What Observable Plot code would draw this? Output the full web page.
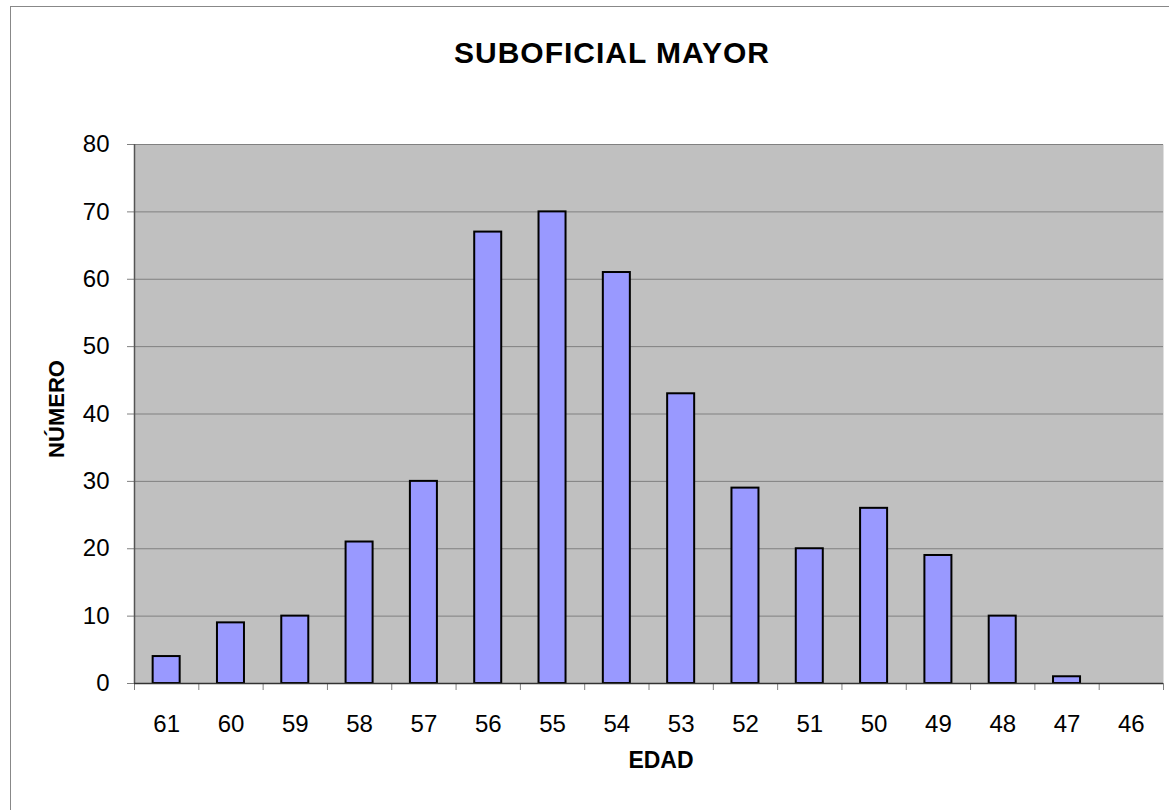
<!DOCTYPE html>
<html>
<head>
<meta charset="utf-8">
<script src="https://cdn.jsdelivr.net/npm/d3@7"></script>
<script src="https://cdn.jsdelivr.net/npm/@observablehq/plot@0.6"></script>
<style>
  body { margin: 0; background: #fff; font-family: Arial, "Liberation Sans", sans-serif; }
  #wrap { position: relative; width: 1169px; height: 810px; overflow: hidden; }
  #border { position: absolute; left: 10px; top: 6px; width: 1180px; height: 820px; border: 1px solid #888; box-sizing: border-box; }
  #title { position: absolute; left: 312px; width: 600px; top: 38px; text-align: center; font-weight: bold; font-size: 30px; line-height: 30px; letter-spacing: 1px; }
  #xlab { position: absolute; left: 561px; width: 200px; top: 749px; text-align: center; font-weight: bold; font-size: 23px; line-height: 23px; }
  #ylab { position: absolute; left: 57px; top: 409px; transform: translate(-50%, -50%) rotate(-90deg); font-weight: bold; font-size: 22px; line-height: 22px; white-space: nowrap; }
  #chart { position: absolute; left: 0; top: 0; }
</style>
</head>
<body>
<div id="wrap">
  <div id="border"></div>
  <div id="chart"></div>
  <div id="title">SUBOFICIAL MAYOR</div>
  <div id="xlab">EDAD</div>
  <div id="ylab">NÚMERO</div>
</div>
<script>
const ages = ["61","60","59","58","57","56","55","54","53","52","51","50","49","48","47","46"];
const counts = [4, 9, 10, 21, 30, 67, 70, 61, 43, 29, 20, 26, 19, 10, 1, 0];
const yTicks = [0, 10, 20, 30, 40, 50, 60, 70, 80];

const data = ages.map((a, i) => ({age: a, n: counts[i]}));

const W = 1169, H = 810, mL = 134, mR = 6, mT = 144, mB = 127;
const bw = (W - mL - mR) / ages.length;
const pad = 0.58;

const chart = Plot.plot({
  width: W,
  height: H,
  marginLeft: mL,
  marginRight: mR,
  marginTop: mT,
  marginBottom: mB,
  style: {fontFamily: "Arial, 'Liberation Sans', sans-serif", fontSize: "24px", color: "#000", background: "transparent"},
  x: {domain: ages, paddingInner: pad, paddingOuter: pad / 2, round: false, label: null},
  y: {domain: [0, 80], label: null},
  marks: [
    Plot.frame({fill: "#C0C0C0", stroke: null}),
    Plot.gridY(yTicks, {stroke: "#808080", strokeOpacity: 1, strokeWidth: 1}),
    Plot.axisY(yTicks, {tickSize: 7, tickPadding: 18, stroke: "#808080", fill: "#000", fontSize: 24}),
    Plot.axisX({tickSize: 0, tickPadding: 31, fontSize: 24, fill: "#000"}),
    Plot.ruleX(ages, {x: d => d, dx: -bw / 2, y1: 0, y2: 0, insetBottom: -7, stroke: "#808080"}),
    Plot.ruleX([ages[ages.length - 1]], {x: d => d, dx: bw / 2, y1: 0, y2: 0, insetBottom: -7, stroke: "#808080"}),
    Plot.ruleX([ages[0]], {x: d => d, dx: -bw / 2, y1: 0, y2: 80, stroke: "#555", strokeWidth: 1.5}),
    Plot.barY(data, {x: "age", y: "n", fill: "#9999FF", stroke: "#000", strokeWidth: 2}),
    Plot.ruleY([0], {stroke: "#333", strokeWidth: 1.5})
  ]
});
document.getElementById("chart").appendChild(chart);
</script>
</body>
</html>
